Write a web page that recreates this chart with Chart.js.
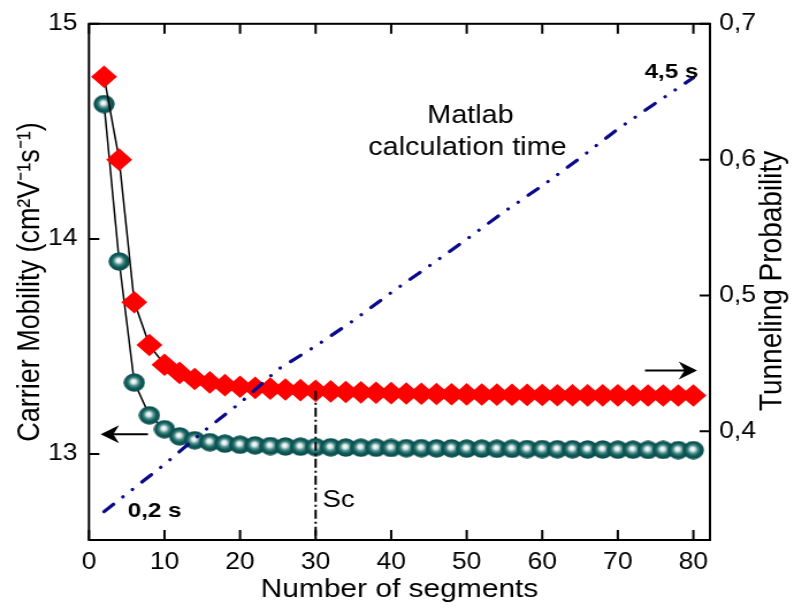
<!DOCTYPE html>
<html>
<head>
<meta charset="utf-8">
<script src="https://cdn.jsdelivr.net/npm/chart.js@4.4.1/dist/chart.umd.min.js"></script>
<style>
  html, body { margin: 0; padding: 0; background: #fff; overflow: hidden; }
  /* the original figure is stretched sideways, so the canvas is too */
  #wrap { width: 690px; height: 612px; transform: scaleX(1.1507); transform-origin: 0 0; }
</style>
</head>
<body>
<div id="wrap"><canvas id="chart"></canvas></div>
<script>
// ========================================
// Data
// ========================================
const segments = [2, 4, 6, 8, 10, 12, 14, 16, 18, 20, 22, 24, 26, 28, 30, 32, 34, 36, 38, 40,
                  42, 44, 46, 48, 50, 52, 54, 56, 58, 60, 62, 64, 66, 68, 70, 72, 74, 76, 78, 80];

// carrier mobility (cm2 V-1 s-1), left axis
const mobility = [14.627, 13.895, 13.332, 13.180, 13.115, 13.082, 13.064, 13.055, 13.048, 13.043,
                  13.040, 13.037, 13.035, 13.034, 13.032, 13.031, 13.030, 13.029, 13.029, 13.028,
                  13.027, 13.027, 13.026, 13.026, 13.025, 13.025, 13.024, 13.024, 13.023, 13.023,
                  13.022, 13.022, 13.021, 13.021, 13.020, 13.020, 13.019, 13.019, 13.018, 13.018];

// tunneling probability, right axis
const tunneling = [0.661, 0.600, 0.495, 0.4635, 0.449, 0.443, 0.4385, 0.436, 0.434, 0.4328,
                   0.4320, 0.4314, 0.4308, 0.4303, 0.4298, 0.4294, 0.4290, 0.4287, 0.4284, 0.4281,
                   0.4279, 0.4277, 0.4275, 0.4273, 0.4272, 0.4271, 0.4270, 0.4269, 0.4268, 0.4267,
                   0.4266, 0.4266, 0.4265, 0.4265, 0.4265, 0.4264, 0.4264, 0.4264, 0.4264, 0.4264];

// Matlab calculation time (s), no visible axis
const timeSegments = [2, 10, 15, 20, 25, 30, 35, 40, 45, 50, 55, 60, 65, 70, 75, 80];
const calcTime = [0.2, 0.668, 0.986, 1.277, 1.608, 1.84, 2.093, 2.37, 2.632, 2.899,
                  3.174, 3.429, 3.704, 3.99, 4.248, 4.5];

// Sc marker line
const scX = [30, 30];
const scY = [0.4298, 0.32];

// tick labels
const xTicks = [0, 10, 20, 30, 40, 50, 60, 70, 80];
const mobilityTicks = [13, 14, 15];
const tunnelingTicks = [0.4, 0.5, 0.6, 0.7];

const FONT = '"Liberation Sans", Arial, sans-serif';
Chart.defaults.font.family = FONT;
Chart.defaults.color = '#000';

// ========================================
// Sphere marker (teal ball with highlight)
// ========================================
function makeSphere(size) {
  const c = document.createElement('canvas');
  c.width = size;
  c.height = size;
  const g = c.getContext('2d');
  const r = size / 2;
  const grad = g.createRadialGradient(r - 0.8, r - 1.2, 0.3, r, r, r);
  grad.addColorStop(0, '#ffffff');
  grad.addColorStop(0.2, '#d8e8e7');
  grad.addColorStop(0.42, '#4f8e8c');
  grad.addColorStop(0.66, '#0f5c5a');
  grad.addColorStop(1, '#094a49');
  g.fillStyle = grad;
  g.beginPath();
  g.arc(r, r, r - 0.3, 0, Math.PI * 2);
  g.fill();
  return c;
}
const sphere = makeSphere(19);

const toXY = (xs, ys) => xs.map((x, i) => ({ x: x, y: ys[i] }));

// ========================================
// Frame, inward ticks and notes
// ========================================
function arrow(ctx, x1, y, x2) {
  const dir = Math.sign(x2 - x1);
  ctx.beginPath();
  ctx.moveTo(x1, y);
  ctx.lineTo(x2 - dir * 6, y);
  ctx.stroke();
  ctx.beginPath();
  ctx.moveTo(x2, y);
  ctx.lineTo(x2 - dir * 16, y - 9);
  ctx.lineTo(x2 - dir * 11, y);
  ctx.lineTo(x2 - dir * 16, y + 9);
  ctx.closePath();
  ctx.fill();
}

const framePlugin = {
  id: 'framePlugin',
  afterDraw(chart) {
    const { ctx, chartArea: a, scales } = chart;
    const sx = scales.x, sy = scales.y, sy1 = scales.y1;
    ctx.save();
    ctx.strokeStyle = '#000';
    ctx.fillStyle = '#000';
    ctx.lineWidth = 2;
    ctx.strokeRect(a.left, a.top, a.right - a.left, a.bottom - a.top);

    ctx.beginPath();
    sx.ticks.forEach(t => {
      const px = sx.getPixelForValue(t.value);
      ctx.moveTo(px, a.bottom); ctx.lineTo(px, a.bottom - 10);
      ctx.moveTo(px, a.top); ctx.lineTo(px, a.top + 10);
    });
    sy.ticks.forEach(t => {
      const py = sy.getPixelForValue(t.value);
      ctx.moveTo(a.left, py); ctx.lineTo(a.left + 9, py);
    });
    sy1.ticks.forEach(t => {
      const py = sy1.getPixelForValue(t.value);
      ctx.moveTo(a.right, py); ctx.lineTo(a.right - 9, py);
    });
    ctx.stroke();

    // arrows to the axes
    ctx.lineWidth = 2;
    arrow(ctx, sx.getPixelForValue(7.8), sy.getPixelForValue(13.092), sx.getPixelForValue(1.55));
    arrow(ctx, sx.getPixelForValue(73.6), sy1.getPixelForValue(0.4448), sx.getPixelForValue(80.5));

    // texts
    ctx.textBaseline = 'middle';
    ctx.textAlign = 'center';
    ctx.font = '25px ' + FONT;
    ctx.fillText('Matlab', sx.getPixelForValue(50.5), sy.getPixelForValue(14.573));
    ctx.fillText('calculation time', sx.getPixelForValue(50.1), sy.getPixelForValue(14.423));
    ctx.font = 'bold 21px ' + FONT;
    ctx.fillText('4,5 s', sx.getPixelForValue(77.1), sy.getPixelForValue(14.775));
    ctx.fillText('0,2 s', sx.getPixelForValue(8.7), sy.getPixelForValue(12.736));
    ctx.textAlign = 'left';
    ctx.font = '24px ' + FONT;
    ctx.fillText('Sc', sx.getPixelForValue(30.9), sy.getPixelForValue(12.786));

    // right axis title, reads bottom to top
    ctx.font = '28px ' + FONT;
    ctx.textAlign = 'center';
    ctx.translate(a.right + 54, (a.top + a.bottom) / 2 - 1);
    ctx.rotate(-Math.PI / 2);
    ctx.fillText('Tunneling Probability', 0, 0);
    ctx.restore();
  }
};

// ========================================
// Chart
// ========================================
const ctx = document.getElementById('chart').getContext('2d');
new Chart(ctx, {
  type: 'line',
  data: {
    datasets: [
      {
        label: 'Matlab calculation time',
        data: toXY(timeSegments, calcTime),
        yAxisID: 'yTime',
        borderColor: '#0a0a8a',
        borderWidth: 3.2,
        borderDash: [11, 11, 0.1, 11, 0.1, 11],
        borderCapStyle: 'round',
        pointRadius: 0,
        tension: 0
      },
      {
        label: 'Sc',
        data: toXY(scX, scY),
        yAxisID: 'y1',
        borderColor: '#000',
        borderWidth: 2,
        borderDash: [9, 3, 2, 3],
        pointRadius: 0
      },
      {
        label: 'Tunneling Probability',
        data: toXY(segments, tunneling),
        yAxisID: 'y1',
        borderColor: '#000',
        borderWidth: 1.5,
        pointStyle: 'rectRot',
        pointRadius: 11.3,
        pointBackgroundColor: '#ff0000',
        pointBorderWidth: 0,
        tension: 0
      },
      {
        label: 'Carrier Mobility',
        data: toXY(segments, mobility),
        yAxisID: 'y',
        borderColor: '#000',
        borderWidth: 1.5,
        pointStyle: sphere,
        pointRadius: 9.5,
        pointBorderWidth: 0,
        tension: 0
      }
    ]
  },
  options: {
    responsive: true,
    maintainAspectRatio: false,
    animation: false,
    events: [],
    layout: { padding: { top: 13, left: 0, right: 0, bottom: 0 } },
    plugins: {
      legend: { display: false },
      tooltip: { enabled: false }
    },
    scales: {
      x: {
        type: 'linear',
        min: 0,
        max: 82.2,
        grid: { display: false, drawTicks: false },
        border: { display: false },
        afterBuildTicks: s => { s.ticks = xTicks.map(v => ({ value: v })); },
        afterFit: s => { s.height = 72; },
        ticks: { padding: 9, font: { size: 23 }, maxRotation: 0 },
        title: {
          display: true,
          text: 'Number of segments',
          font: { size: 26 },
          padding: { top: 0, bottom: 7 }
        }
      },
      y: {
        position: 'left',
        min: 12.6,
        max: 15,
        grid: { display: false, drawTicks: false },
        border: { display: false },
        afterBuildTicks: s => { s.ticks = mobilityTicks.map(v => ({ value: v })); },
        afterFit: s => { s.width = 77.3; },
        ticks: { padding: 10, font: { size: 23 } },
        title: {
          display: true,
          text: 'Carrier Mobility (cm²V⁻¹s⁻¹)',
          font: { size: 27 },
          padding: { top: 10, bottom: 0 }
        }
      },
      y1: {
        position: 'right',
        min: 0.32,
        max: 0.7,
        grid: { display: false, drawTicks: false },
        border: { display: false },
        afterBuildTicks: s => { s.ticks = tunnelingTicks.map(v => ({ value: v })); },
        afterFit: s => { s.width = 73; },
        ticks: {
          padding: 8,
          font: { size: 23 },
          callback: v => v.toFixed(1).replace('.', ',')
        }
      },
      yTime: {
        display: false,
        min: -0.0815,
        max: 5.034
      }
    }
  },
  plugins: [framePlugin]
});
</script>
</body>
</html>
